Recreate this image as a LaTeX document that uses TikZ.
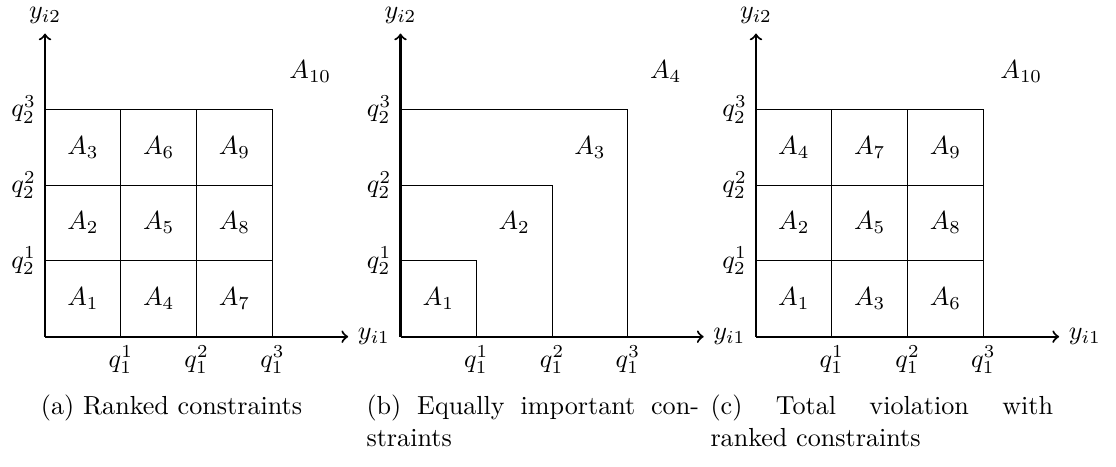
\documentclass[tikz,border=0pt]{standalone}
\usepackage{amssymb}
\usetikzlibrary{arrows}

\tikzset{
	axe/.style={thick,->},
	legende/.style={inner sep=0pt, align=justify}
}

\begin{document}
\begin{tikzpicture}[x=1.02cm, y=1.02cm]
	\useasboundingbox (-0.594,-1.719) rectangle (14.13,4.442);
	%panneau (a)
	\begin{scope}
	%la grille
	\draw (1,0) -- (1,3);
	\draw (2,0) -- (2,3);
	\draw (3,0) -- (3,3);
	\draw (0,1) -- (3,1);
	\draw (0,2) -- (3,2);
	\draw (0,3) -- (3,3);
	%les axes
	\draw[axe] (0,0) -- (4,0) node[right] (a-x) {$y_{i1}$};
	\draw[axe] (0,0) -- (0,4) node[above] (a-y) {$y_{i2}$};
	%graduations
	\node[below] (a-q11) at (1,0) {$q_1^1$};
	\node[below] (a-q12) at (2,0) {$q_1^2$};
	\node[below] (a-q13) at (3,0) {$q_1^3$};
	\node[left] (a-q21) at (0,1) {$q_2^1$};
	\node[left] (a-q22) at (0,2) {$q_2^2$};
	\node[left] (a-q23) at (0,3) {$q_2^3$};
	%les zones
	\node (a-A1) at (0.5,0.5) {$A_1$};
	\node (a-A2) at (0.5,1.5) {$A_2$};
	\node (a-A3) at (0.5,2.5) {$A_3$};
	\node (a-A4) at (1.5,0.5) {$A_4$};
	\node (a-A5) at (1.5,1.5) {$A_5$};
	\node (a-A6) at (1.5,2.5) {$A_6$};
	\node (a-A7) at (2.5,0.5) {$A_7$};
	\node (a-A8) at (2.5,1.5) {$A_8$};
	\node (a-A9) at (2.5,2.5) {$A_9$};
	\node (a-A10) at (3.5,3.5) {$A_{10}$};
	\end{scope}
	%panneau (b)
	\begin{scope}[shift={(4.69,0)}]
	%les carres
	\draw (0,1) -- (1,1) -- (1,0);
	\draw (0,2) -- (2,2) -- (2,0);
	\draw (0,3) -- (3,3) -- (3,0);
	%les axes
	\draw[axe] (0,0) -- (4,0) node[right] (b-x) {$y_{i1}$};
	\draw[axe] (0,0) -- (0,4) node[above] (b-y) {$y_{i2}$};
	%graduations
	\node[below] (b-q11) at (1,0) {$q_1^1$};
	\node[below] (b-q12) at (2,0) {$q_1^2$};
	\node[below] (b-q13) at (3,0) {$q_1^3$};
	\node[left] (b-q21) at (0,1) {$q_2^1$};
	\node[left] (b-q22) at (0,2) {$q_2^2$};
	\node[left] (b-q23) at (0,3) {$q_2^3$};
	%les zones
	\node (b-A1) at (0.5,0.5) {$A_1$};
	\node (b-A2) at (1.5,1.5) {$A_2$};
	\node (b-A3) at (2.5,2.5) {$A_3$};
	\node (b-A4) at (3.5,3.5) {$A_4$};
	\end{scope}
	%panneau (c)
	\begin{scope}[shift={(9.38,0)}]
	%la grille
	\draw (1,0) -- (1,3);
	\draw (2,0) -- (2,3);
	\draw (3,0) -- (3,3);
	\draw (0,1) -- (3,1);
	\draw (0,2) -- (3,2);
	\draw (0,3) -- (3,3);
	%les axes
	\draw[axe] (0,0) -- (4,0) node[right] (c-x) {$y_{i1}$};
	\draw[axe] (0,0) -- (0,4) node[above] (c-y) {$y_{i2}$};
	%graduations
	\node[below] (c-q11) at (1,0) {$q_1^1$};
	\node[below] (c-q12) at (2,0) {$q_1^2$};
	\node[below] (c-q13) at (3,0) {$q_1^3$};
	\node[left] (c-q21) at (0,1) {$q_2^1$};
	\node[left] (c-q22) at (0,2) {$q_2^2$};
	\node[left] (c-q23) at (0,3) {$q_2^3$};
	%les zones
	\node (c-A1) at (0.5,0.5) {$A_1$};
	\node (c-A2) at (0.5,1.5) {$A_2$};
	\node (c-A4) at (0.5,2.5) {$A_4$};
	\node (c-A3) at (1.5,0.5) {$A_3$};
	\node (c-A5) at (1.5,1.5) {$A_5$};
	\node (c-A7) at (1.5,2.5) {$A_7$};
	\node (c-A6) at (2.5,0.5) {$A_6$};
	\node (c-A8) at (2.5,1.5) {$A_8$};
	\node (c-A9) at (2.5,2.5) {$A_9$};
	\node (c-A10) at (3.5,3.5) {$A_{10}$};
	\end{scope}
	%les legendes
	\node[legende, anchor=base] (a-leg) at (1.669,-1.033) {(a) Ranked constraints};
	\node[legende, text width=127.3pt, anchor=base west] (b-leg) at (4.235,-1.033) {(b) Equally important con-\linebreak straints};
	\node[legende, text width=131.2pt, anchor=base west] (c-leg) at (8.773,-1.033) {(c) Total violation with\linebreak ranked constraints};
\end{tikzpicture}
\end{document}
